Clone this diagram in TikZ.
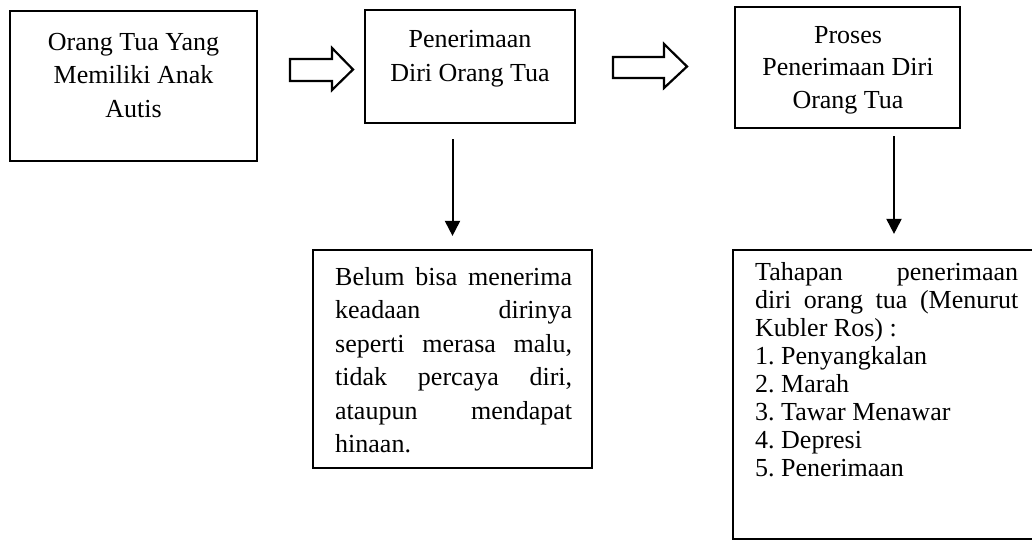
\documentclass[tikz,border=0pt]{standalone}
\usepackage{fontspec}
\setmainfont{Liberation Serif}
\usetikzlibrary{arrows.meta}
\tikzset{
  box/.style={draw, line width=2.2pt, inner sep=0pt, rectangle},
  txt/.style={inner sep=0pt, anchor=base},
  txtl/.style={inner sep=0pt, anchor=base west},
  downarrow/.style={line width=2pt, -{Triangle[width=15pt,length=15pt]}},
  hollow/.style={draw, line width=2.2pt, fill=white, line join=miter}
}
\newcommand{\bodyfont}[1]{\fontsize{26}{#1}\selectfont\frenchspacing}
\begin{document}
\begin{tikzpicture}[x=1pt,y=1pt]
\useasboundingbox (0,0) rectangle (1032,-539);
\clip (0,0) rectangle (1032,-539);

% boxes
\node[box, minimum width=247pt, minimum height=150pt] (b1) at (133.5,-86) {};
\node[box, minimum width=210pt, minimum height=113pt] (b2) at (470,-66.5) {};
\node[box, minimum width=225pt, minimum height=121pt] (b3) at (847.5,-67.5) {};
\node[box, minimum width=279pt, minimum height=218pt] (b4) at (452.5,-359) {};
\node[box, minimum width=322pt, minimum height=289.5pt] (b5) at (894,-394.75) {};

% texts
\node[txt] (t1) at (133.5,-50) {\parbox[t]{240pt}{\bodyfont{33.5}\centering Orang Tua Yang\\Memiliki Anak\\Autis}};
\node[txt] (t2) at (470,-47) {\parbox[t]{205pt}{\bodyfont{34.5}\centering Penerimaan\\Diri Orang Tua}};
\node[txt] (t3) at (848,-43) {\parbox[t]{220pt}{\bodyfont{32.5}\centering Proses\\Penerimaan Diri\\Orang Tua}};
\node[txtl] (t4) at (335,-285) {\parbox[t]{237pt}{\bodyfont{33.5}\parindent=0pt
Belum bisa menerima\linebreak keadaan dirinya\linebreak seperti merasa malu,\linebreak tidak percaya diri,\linebreak ataupun mendapat\linebreak hinaan.}};
\node[txtl] (t5) at (755,-280) {\parbox[t]{263pt}{\bodyfont{28}\parindent=0pt
Tahapan penerimaan\linebreak diri orang tua (Menurut\linebreak Kubler Ros) :\\
1. Penyangkalan\\
2. Marah\\
3. Tawar Menawar\\
4. Depresi\\
5. Penerimaan}};

% hollow arrows
\draw[hollow] (290,-59) -- (332,-59) -- (332,-48) -- (353,-69.5) -- (332,-90) -- (332,-81) -- (290,-81) -- cycle;
\draw[hollow] (613,-57) -- (664,-57) -- (664,-44) -- (687,-66.5) -- (664,-88) -- (664,-78) -- (613,-78) -- cycle;

% down arrows
\draw[downarrow, shorten <=15pt, shorten >=13pt] (b4.north |- b2.south) -- (b4.north);
\draw[downarrow, shorten <=7pt, shorten >=15pt] (b5.north |- b3.south) -- (b5.north);
\end{tikzpicture}
\end{document}
